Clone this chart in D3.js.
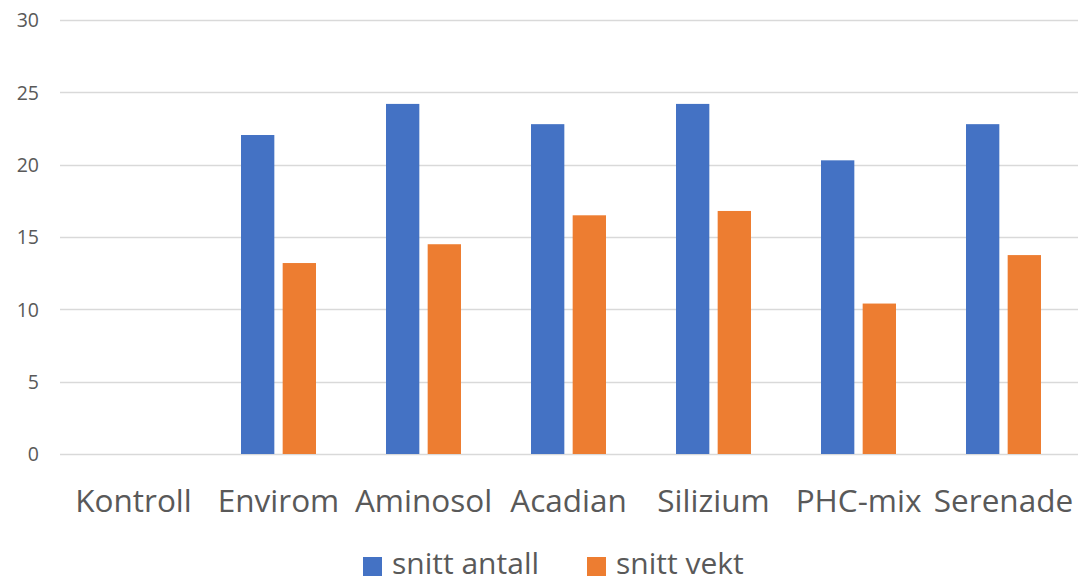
<!DOCTYPE html>
<html>
<head>
<meta charset="utf-8">
<script src="https://cdn.jsdelivr.net/npm/d3@7"></script>
<style>
  html, body { margin: 0; padding: 0; background: #fff; }
  svg { display: block; font-family: "Open Sans", "Noto Sans", sans-serif; }
</style>
</head>
<body>
<svg id="chart" width="1081" height="583"></svg>
<script>
const categories = ["Kontroll", "Envirom", "Aminosol", "Acadian", "Silizium", "PHC-mix", "Serenade"];
const seriesNames = ["snitt antall", "snitt vekt"];
const snittAntall = [0, 22.05, 24.2, 22.8, 24.2, 20.3, 22.8];
const snittVekt = [0, 13.2, 14.5, 16.5, 16.8, 10.4, 13.75];
const yTicks = [0, 5, 10, 15, 20, 25, 30];
const colors = ["#4472C4", "#ED7D31"];

const svg = d3.select("#chart");
const plot = { left: 61, right: 1076, top: 20, bottom: 454 };

const x0 = d3.scaleBand().domain(categories).range([plot.left, plot.right]).padding(0);
const groupW = 75;
const x1 = d3.scaleBand().domain(seriesNames).range([0, groupW]).paddingInner(0.2);
const y = d3.scaleLinear().domain([0, 30]).range([plot.bottom, plot.top]);

// gridlines
svg.append("g")
  .selectAll("line").data(yTicks).join("line")
  .attr("x1", 60).attr("x2", 1078)
  .attr("y1", d => Math.round(y(d)) + 0.5).attr("y2", d => Math.round(y(d)) + 0.5)
  .attr("stroke", "#d9d9d9").attr("stroke-width", 1.3);

// y axis labels
const yAxis = d3.axisLeft(y).tickValues(yTicks).tickSize(0).tickPadding(0);
const gy = svg.append("g").attr("transform", "translate(39,0)").call(yAxis);
gy.select(".domain").remove();
gy.selectAll("text").attr("fill", "#595959").style("font-size", "19.5px")
  .style("font-family", "'Open Sans', sans-serif").attr("dy", "0.35em");

// bars
const data = categories.map((c, i) => ({ cat: c, vals: [snittAntall[i], snittVekt[i]] }));
const groups = svg.append("g").selectAll("g").data(data).join("g")
  .attr("transform", d => `translate(${x0(d.cat) + (x0.bandwidth() - groupW) / 2},0)`);
groups.selectAll("rect").data(d => d.vals.map((v, j) => ({ s: seriesNames[j], v, j })))
  .join("rect")
  .attr("x", d => x1(d.s))
  .attr("width", x1.bandwidth())
  .attr("y", d => y(d.v))
  .attr("height", d => y(0) - y(d.v))
  .attr("fill", d => colors[d.j]);

// x axis labels
const xAxis = d3.axisBottom(x0).tickSize(0).tickPadding(0);
const gx = svg.append("g").attr("transform", "translate(0,512)").call(xAxis);
gx.select(".domain").remove();
gx.selectAll("text").attr("fill", "#595959").attr("dy", "0")
  .style("font-size", "31.5px").style("font-family", "'Open Sans', sans-serif");

// legend
const legend = svg.append("g");
const legendItems = [
  { name: seriesNames[0], color: colors[0], x: 363 },
  { name: seriesNames[1], color: colors[1], x: 587 }
];
legendItems.forEach(it => {
  legend.append("rect").attr("x", it.x).attr("y", 557).attr("width", 19).attr("height", 19).attr("fill", it.color);
  legend.append("text").attr("x", it.x + 29).attr("y", 574)
    .attr("fill", "#595959").style("font-size", "30px").text(it.name);
});
</script>
</body>
</html>
